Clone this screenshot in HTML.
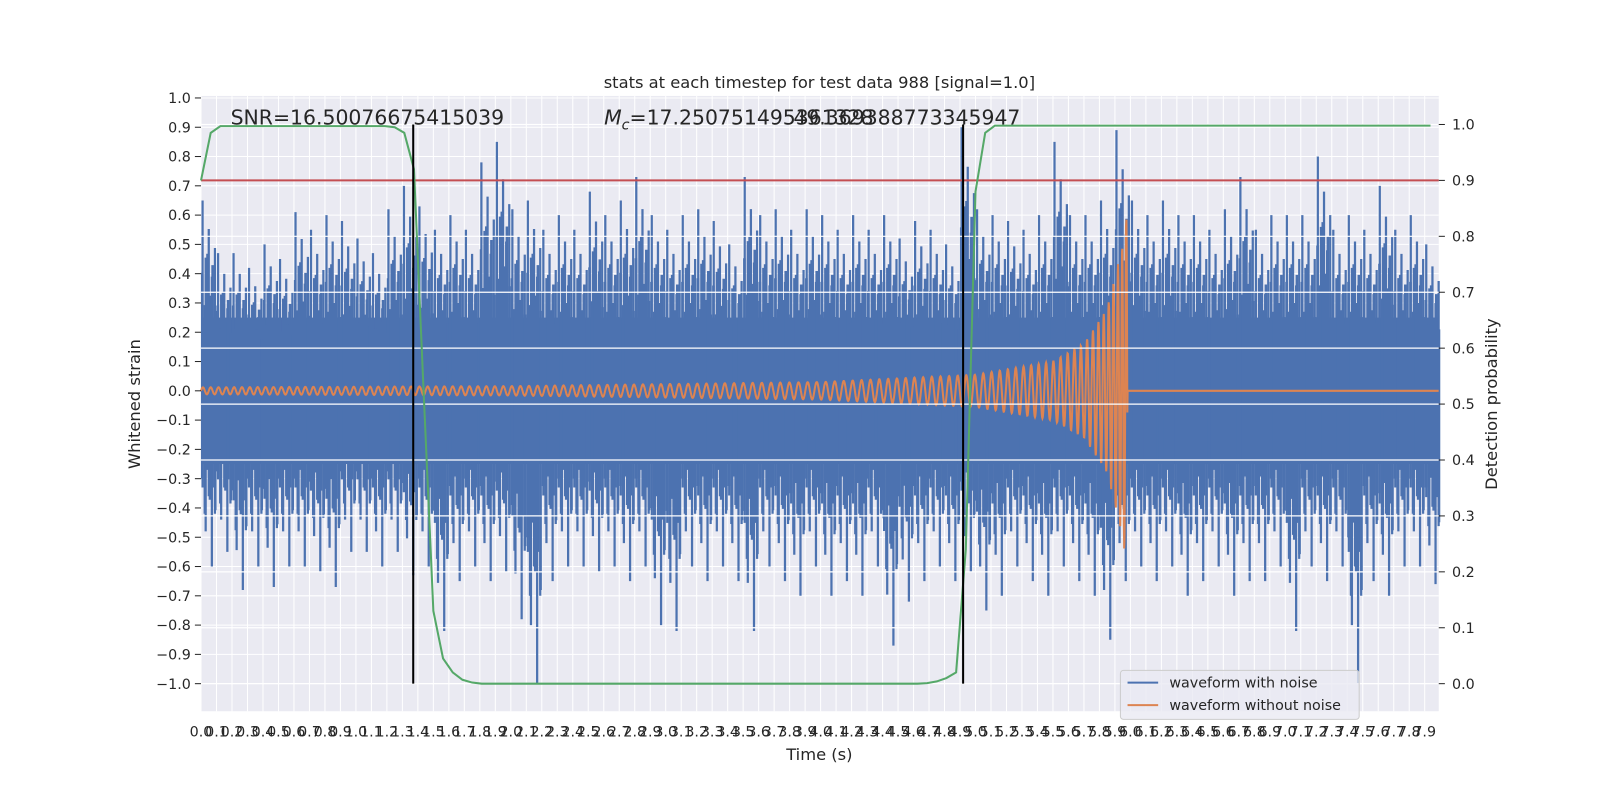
<!DOCTYPE html>
<html><head><meta charset="utf-8"><style>
html,body{margin:0;padding:0;background:#fff;width:1600px;height:800px;overflow:hidden}
svg text{font-family:"DejaVu Sans","Liberation Sans",sans-serif;fill:#262626}
</style></head><body>
<svg id="chart" width="1600" height="800" xmlns="http://www.w3.org/2000/svg">
<g transform="scale(1.0204)">
<rect x="197" y="94" width="1213" height="603" fill="#eaeaf2"/>
<g id="grid"></g><g id="noise"></g><g id="chirp"></g><g id="rgrid"></g><g id="right"></g><g id="axes"></g>
<text x="803" y="86" font-size="16" text-anchor="middle">stats at each timestep for test data 988 [signal=1.0]</text>
<text x="226" y="122" font-size="20">SNR=16.50076675415039</text>
<text x="592" y="122" font-size="20"><tspan font-style="italic">M</tspan><tspan font-style="italic" font-size="14" dy="5">c</tspan><tspan dy="-5">=17.250751495361328</tspan></text>
<text x="1000" y="122" font-size="20" text-anchor="end">49.369388773345947</text>
<text x="803" y="745" font-size="16" text-anchor="middle">Time (s)</text>
<text x="137" y="396" font-size="16" text-anchor="middle" transform="rotate(-90 137 396)">Whitened strain</text>
<text x="1467" y="396" font-size="16" text-anchor="middle" transform="rotate(-90 1467 396)">Detection probability</text>
<g>
<rect x="1098" y="657" width="234" height="48" rx="3" fill="#eaeaf2" fill-opacity="0.8" stroke="#ccc"/>
<line x1="1105" y1="669" x2="1135" y2="669" stroke="#4c72b0" stroke-width="2"/>
<text x="1146" y="674" font-size="14">waveform with noise</text>
<line x1="1105" y1="691" x2="1135" y2="691" stroke="#dd8452" stroke-width="2"/>
<text x="1146" y="696" font-size="14">waveform without noise</text>
</g>
</g>
</svg>
<script>
const noiseHi=[0.65,0.47,0.47,0.42,0.5,0.45,0.61,0.55,0.6,0.58,0.52,0.47,0.62,0.7,0.63,0.55,0.6,0.55,0.78,0.85,0.62,0.65,0.55,0.6,0.55,0.68,0.6,0.65,0.73,0.6,0.55,0.6,0.62,0.58,0.5,0.73,0.6,0.62,0.55,0.62,0.6,0.55,0.6,0.55,0.6,0.52,0.58,0.55,0.5,0.9,0.62,0.6,0.58,0.55,0.6,0.85,0.6,0.6,0.65,0.89,0.65,0.6,0.65,0.6,0.6,0.55,0.62,0.73,0.55,0.6,0.6,0.6,0.8,0.55,0.6,0.55,0.7,0.55,0.6,0.5];
const noiseLo=[-0.6,-0.55,-0.68,-0.6,-0.67,-0.6,-0.6,-0.62,-0.67,-0.55,-0.55,-0.6,-0.55,-0.63,-0.6,-0.82,-0.65,-0.6,-0.65,-0.62,-0.78,-1.0,-0.65,-0.6,-0.6,-0.62,-0.6,-0.65,-0.6,-0.8,-0.82,-0.6,-0.65,-0.6,-0.65,-0.82,-0.6,-0.65,-0.7,-0.6,-0.7,-0.65,-0.7,-0.6,-0.87,-0.72,-0.65,-0.6,-0.65,-0.62,-0.75,-0.7,-0.6,-0.65,-0.7,-0.6,-0.65,-0.7,-0.85,-0.65,-0.6,-0.65,-0.6,-0.7,-0.65,-0.6,-0.7,-0.65,-0.65,-0.6,-0.82,-0.6,-0.65,-0.6,-1.0,-0.65,-0.7,-0.6,-0.6,-0.66];
const ampT=[0,2,4,5,5.5,5.7,5.85,5.95,5.98];
const ampV=[0.012,0.016,0.03,0.055,0.1,0.16,0.28,0.5,0.62];
const perT=[0,2,3.5,5,5.6,5.98];
const perV=[0.05,0.055,0.06,0.055,0.045,0.025];
const chirpEnd=5.98;
const probStep=0.0625;
const probs=[0.9,0.985,0.997,0.997,0.997,0.997,0.997,0.997,0.997,0.997,0.997,0.997,0.997,0.997,0.997,0.997,0.997,0.997,0.997,0.997,0.995,0.985,0.92,0.52,0.13,0.045,0.02,0.007,0.002,0,0,0,0,0,0,0,0,0,0,0,0,0,0,0,0,0,0,0,0,0,0,0,0,0,0,0,0,0,0,0,0,0,0,0,0,0,0,0,0,0,0,0,0,0,0,0.001,0.004,0.01,0.02,0.24,0.88,0.985,0.998,0.998,0.998,0.998,0.998,0.998,0.998,0.998,0.998,0.998,0.998,0.998,0.998,0.998,0.998,0.998,0.998,0.998,0.998,0.998,0.998,0.998,0.998,0.998,0.998,0.998,0.998,0.998,0.998,0.998,0.998,0.998,0.998,0.998,0.998,0.998,0.998,0.998,0.998,0.998,0.998,0.998,0.998,0.998,0.998,0.998];
const threshold=0.9;
const vlines=[1.37,4.92];
const xTicks=[];for(let i=0;i<80;i++)xTicks.push((i/10).toFixed(1));
const yTicks=["1.0","0.9","0.8","0.7","0.6","0.5","0.4","0.3","0.2","0.1","0.0","-0.1","-0.2","-0.3","-0.4","-0.5","-0.6","-0.7","-0.8","-0.9","-1.0"];
const rTicks=["0.0","0.1","0.2","0.3","0.4","0.5","0.6","0.7","0.8","0.9","1.0"];

const NS="http://www.w3.org/2000/svg";
const X=t=>197+t*151.8;
const Y=v=>383-v*287;
const YR=p=>670-p*548;
function mk(tag,attrs,parent){const e=document.createElementNS(NS,tag);for(const k in attrs)e.setAttribute(k,attrs[k]);document.getElementById(parent).appendChild(e);return e;}
function interp(ts,vs,t){if(t<=ts[0])return vs[0];for(let i=1;i<ts.length;i++){if(t<=ts[i]){const f=(t-ts[i-1])/(ts[i]-ts[i-1]);return vs[i-1]+f*(vs[i]-vs[i-1]);}}return vs[vs.length-1];}

xTicks.forEach(s=>{const t=parseFloat(s);
 const l=mk('line',{x1:X(t),x2:X(t),y1:94,y2:697,stroke:'#fff','stroke-width':1},'grid');
 
 
 const tx=mk('text',{x:X(t),y:722,'font-size':14,'text-anchor':'middle'},'axes');tx.textContent=s;
 
 });
yTicks.forEach(s=>{const v=parseFloat(s);
 const l=mk('line',{x1:197,x2:1410,y1:Y(v),y2:Y(v),stroke:'#fff','stroke-width':1},'grid');
 
 
 mk('line',{x1:191,x2:197,y1:Y(v),y2:Y(v),stroke:'#262626','stroke-width':1},'axes');
 const tx=mk('text',{x:187,y:Y(v)+5,'font-size':14,'text-anchor':'end'},'axes');tx.textContent=s.replace('-','\u2212');
 
 });
rTicks.forEach(s=>{const p=parseFloat(s);
 const l=mk('line',{x1:197,x2:1410,y1:YR(p),y2:YR(p),stroke:'#fff','stroke-width':1.2},'rgrid');
 
 
 mk('line',{x1:1410,x2:1416,y1:YR(p),y2:YR(p),stroke:'#262626','stroke-width':1},'axes');
 const tx=mk('text',{x:1423,y:YR(p)+5,'font-size':14},'axes');tx.textContent=s;
 
 });

const core=mk('rect',{x:X(0),y:Y(0.25),width:X(7.99)-X(0),height:Y(-0.25)-Y(0.25),fill:'#4c72b0'},'noise');


const fr=[[0.1,1,0.55],[0.3,0.7,0.8],[0.5,0.85,0.6],[0.7,0.6,1],[0.9,0.75,0.7]];
const fill=[[0.08,0.62,0.5],[0.25,0.45,0.7],[0.42,0.72,0.45],[0.58,0.5,0.62],[0.75,0.66,0.55],[0.92,0.42,0.68]];
noiseHi.forEach((h,i)=>{const lo=noiseLo[i];
 fr.forEach(f=>{const x=X(i*0.1+f[0]*0.1);
  const l=mk('line',{x1:x,x2:x,y1:Y(h*f[1]),y2:Y(lo*f[2]),stroke:'#4c72b0','stroke-width':2.2},'noise');
  
  });
 fill.forEach(f=>{const x=X(i*0.1+f[0]*0.1);
  const l=mk('line',{x1:x,x2:x,y1:Y(h*f[1]),y2:Y(lo*f[2]),stroke:'#4c72b0','stroke-width':2.6},'noise');
  
  });});

let d='',ph=0,t=0,dt=0.002;
while(t<=7.99){let v=0;if(t<chirpEnd){v=interp(ampT,ampV,t)*Math.sin(ph);ph+=2*Math.PI*dt/interp(perT,perV,t);}
 d+=(d?'L':'M')+X(t).toFixed(1)+' '+Y(v).toFixed(1);t+=dt;}
const cp=mk('path',{d:d,fill:'none',stroke:'#dd8452','stroke-width':2},'chirp');



const th=mk('line',{x1:197,x2:1410,y1:YR(threshold),y2:YR(threshold),stroke:'#c44e52','stroke-width':2},'right');


let gd='';probs.forEach((p,i)=>{const tt=Math.min(i*probStep,7.99);gd+=(i?'L':'M')+X(tt).toFixed(1)+' '+YR(p).toFixed(1);});
const gp=mk('path',{d:gd,fill:'none',stroke:'#55a868','stroke-width':2},'right');


vlines.forEach(v=>{const l=mk('line',{x1:X(v),x2:X(v),y1:YR(1.0),y2:YR(0),stroke:'#000','stroke-width':2},'right');
 
 });
</script>
</body></html>
